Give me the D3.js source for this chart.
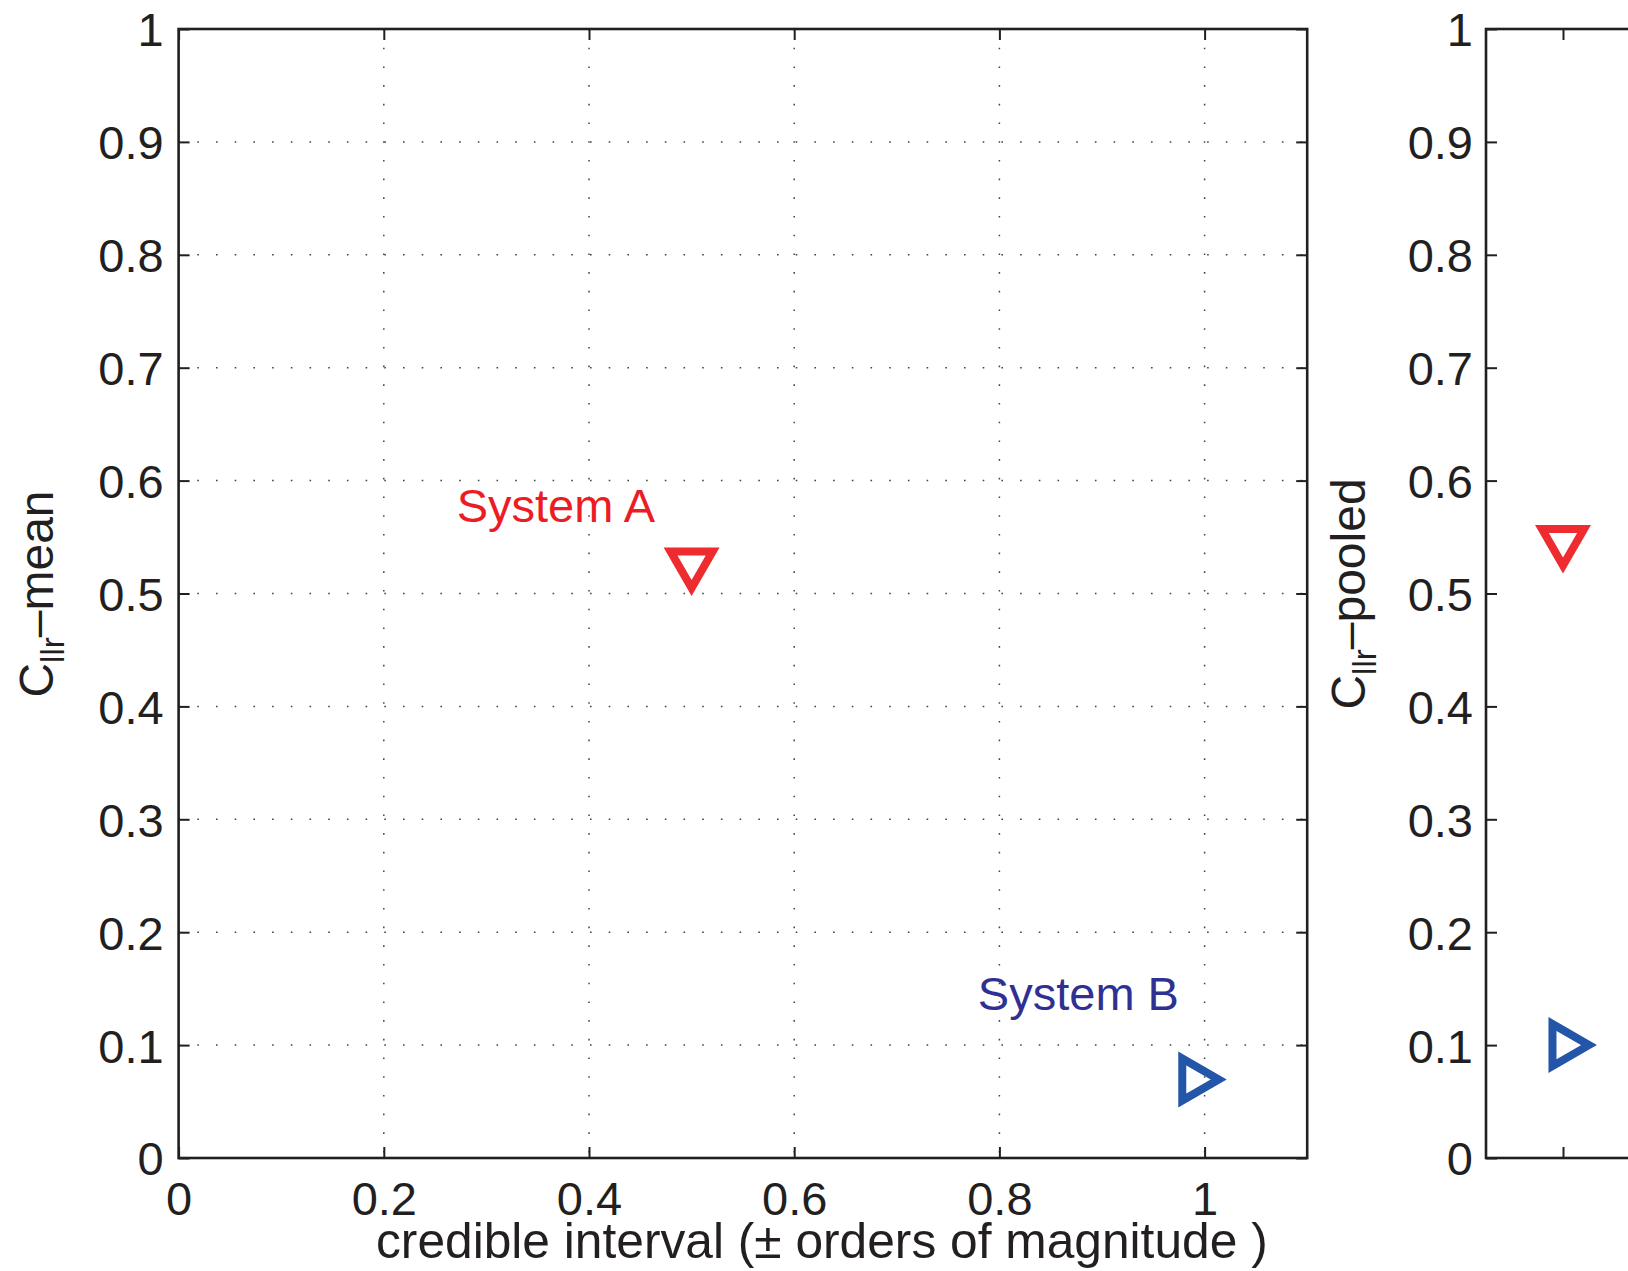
<!DOCTYPE html>
<meta charset="utf-8">
<script src="https://d3js.org/d3.v7.min.js"></script>
<style>
  body { margin: 0; background: #fff; }
  text { font-family: "Liberation Sans", Arial, Helvetica, sans-serif; fill: #231f20; }
</style>
<div id="chart"></div>
<script>

    // data
    var systems = ["System A", "System B"];
    var ciValues = [0.5, 0.996];          // credible interval (x, left panel)
    var cllrMean = [0.521, 0.0695];       // Cllr-mean (y, left panel)
    var pooledX = [0.1, 0.11];            // x position in right panel
    var cllrPooled = [0.541, 0.1];        // Cllr-pooled (y, right panel)
    var labelX = [0.271, 0.779];          // label anchors, data units
    var labelY = [0.563, 0.131];
    var markerShapes = ["down", "right"];
    var markerColors = ["#ee2b2e", "#2356a8"];
    var textColors = ["#ed1c24", "#2e3192"];

    var yTicks = [0, 0.1, 0.2, 0.3, 0.4, 0.5, 0.6, 0.7, 0.8, 0.9, 1];
    var xTicksLeft = [0, 0.2, 0.4, 0.6, 0.8, 1];
    var xTicksRight = [0.1];

    var W = 1628, H = 1271;
    var fs = 47;

    var svg = d3.select("#chart").append("svg")
        .attr("width", W)
        .attr("height", H);
    svg.append("rect").attr("width", W).attr("height", H).attr("fill", "#fff");

    // panels
    var yTop = 29, yBottom = 1158;
    var left1 = 178.6, right1 = 1307.2;
    var left2 = 1486, right2 = 1486 + 770;

    var y = d3.scaleLinear().domain([0, 1]).range([yBottom, yTop]);
    var x1 = d3.scaleLinear().domain([0, 1.1]).range([left1, right1]);
    var x2 = d3.scaleLinear().domain([0, 1]).range([left2, right2]);

    var axisColor = "#231f20";
    var mkStroke = 8;

    function tri(shape, cx, cy) {
        // equilateral triangle, outer side ~56 once stroked (miter joins)
        var s = 42.1, h = s * Math.sqrt(3) / 2;
        var pts;
        if (shape == "down") {
            pts = [[cx - s / 2, cy - h / 2], [cx + s / 2, cy - h / 2], [cx, cy + h / 2]];
        } else {
            pts = [[cx - h / 2, cy - s / 2], [cx + h / 2, cy], [cx - h / 2, cy + s / 2]];
        }
        return "M" + pts.map(function (p) { return p.join(","); }).join("L") + "Z";
    }

    // ---------- left panel ----------
    var g1 = svg.append("g");

    // dotted grid
    g1.selectAll(".gx").data(xTicksLeft.slice(1)).enter().append("line")
        .attr("x1", function (d) { return x1(d); }).attr("x2", function (d) { return x1(d); })
        .attr("y1", yTop).attr("y2", yBottom)
        .attr("stroke", "#444").attr("stroke-width", 1.5)
        .attr("stroke-dasharray", "1.6,17.1");
    g1.selectAll(".gy").data(yTicks.slice(1, -1)).enter().append("line")
        .attr("x1", left1).attr("x2", right1)
        .attr("y1", function (d) { return y(d); }).attr("y2", function (d) { return y(d); })
        .attr("stroke", "#444").attr("stroke-width", 1.5)
        .attr("stroke-dasharray", "1.6,17.1");

    // axes (inward ticks)
    var yAxisL = g1.append("g").attr("transform", "translate(" + left1 + ",0)")
        .call(d3.axisLeft(y).tickValues(yTicks).tickFormat(d3.format("~g"))
            .tickSizeInner(-11).tickSizeOuter(0).tickPadding(15));
    var yAxisR = g1.append("g").attr("transform", "translate(" + right1 + ",0)")
        .call(d3.axisRight(y).tickValues(yTicks).tickFormat("")
            .tickSizeInner(-11).tickSizeOuter(0));
    var xAxisB = g1.append("g").attr("transform", "translate(0," + yBottom + ")")
        .call(d3.axisBottom(x1).tickValues(xTicksLeft).tickFormat(d3.format("~g"))
            .tickSizeInner(-11).tickSizeOuter(0).tickPadding(24));
    var xAxisT = g1.append("g").attr("transform", "translate(0," + yTop + ")")
        .call(d3.axisTop(x1).tickValues(xTicksLeft).tickFormat("")
            .tickSizeInner(-11).tickSizeOuter(0));

    [yAxisL, yAxisR, xAxisB, xAxisT].forEach(function (a) {
        a.select(".domain").remove();
        a.selectAll("line").attr("stroke", axisColor).attr("stroke-width", 2);
        a.selectAll("text").attr("font-size", fs).attr("font-family", null).attr("fill", axisColor);
    });
    yAxisL.selectAll("text").attr("dy", "0.36em");

    g1.append("rect")
        .attr("x", left1).attr("y", yTop)
        .attr("width", right1 - left1).attr("height", yBottom - yTop)
        .attr("fill", "none").attr("stroke", axisColor).attr("stroke-width", 2.6);

    // markers
    g1.selectAll(".mk").data(systems).enter().append("path")
        .attr("d", function (d, i) { return tri(markerShapes[i], x1(ciValues[i]), y(cllrMean[i])); })
        .attr("fill", "none")
        .attr("stroke", function (d, i) { return markerColors[i]; })
        .attr("stroke-width", mkStroke)
        .attr("stroke-linejoin", "miter");

    g1.selectAll(".lb").data(systems).enter().append("text")
        .attr("x", function (d, i) { return x1(labelX[i]); })
        .attr("y", function (d, i) { return y(labelY[i]); })
        .attr("font-size", fs)
        .style("fill", function (d, i) { return textColors[i]; })
        .text(function (d) { return d; });

    // axis labels
    g1.append("text")
        .attr("x", 376).attr("y", 1258)
        .attr("font-size", 49.7)
        .text("credible interval (± orders of magnitude )");

    function cllrLabel(sel, suffix) {
        sel.append("tspan").text("C");
        sel.append("tspan").attr("font-size", 33).attr("dy", 11).text("llr");
        sel.append("tspan").attr("dy", -11).text("–" + suffix);
    }
    var yl1 = g1.append("text")
        .attr("transform", "translate(53," + 594 + ") rotate(-90)")
        .attr("text-anchor", "middle")
        .attr("font-size", 48);
    cllrLabel(yl1, "mean");

    // ---------- right panel (cut off at the edge) ----------
    var g2 = svg.append("g");

    var yAxis2 = g2.append("g").attr("transform", "translate(" + left2 + ",0)")
        .call(d3.axisLeft(y).tickValues(yTicks).tickFormat(d3.format("~g"))
            .tickSizeInner(-11).tickSizeOuter(0).tickPadding(13));
    var xAxis2B = g2.append("g").attr("transform", "translate(0," + yBottom + ")")
        .call(d3.axisBottom(x2).tickValues(xTicksRight).tickFormat("")
            .tickSizeInner(-11).tickSizeOuter(0));
    var xAxis2T = g2.append("g").attr("transform", "translate(0," + yTop + ")")
        .call(d3.axisTop(x2).tickValues(xTicksRight).tickFormat("")
            .tickSizeInner(-11).tickSizeOuter(0));
    [yAxis2, xAxis2B, xAxis2T].forEach(function (a) {
        a.select(".domain").remove();
        a.selectAll("line").attr("stroke", axisColor).attr("stroke-width", 2);
        a.selectAll("text").attr("font-size", fs).attr("font-family", null).attr("fill", axisColor);
    });
    yAxis2.selectAll("text").attr("dy", "0.36em");

    g2.append("rect")
        .attr("x", left2).attr("y", yTop)
        .attr("width", right2 - left2).attr("height", yBottom - yTop)
        .attr("fill", "none").attr("stroke", axisColor).attr("stroke-width", 2.6);

    g2.selectAll(".mk").data(systems).enter().append("path")
        .attr("d", function (d, i) { return tri(markerShapes[i], x2(pooledX[i]), y(cllrPooled[i])); })
        .attr("fill", "none")
        .attr("stroke", function (d, i) { return markerColors[i]; })
        .attr("stroke-width", mkStroke)
        .attr("stroke-linejoin", "miter");

    var yl2 = g2.append("text")
        .attr("transform", "translate(1365," + 594 + ") rotate(-90)")
        .attr("text-anchor", "middle")
        .attr("font-size", 48);
    cllrLabel(yl2, "pooled");

</script>
